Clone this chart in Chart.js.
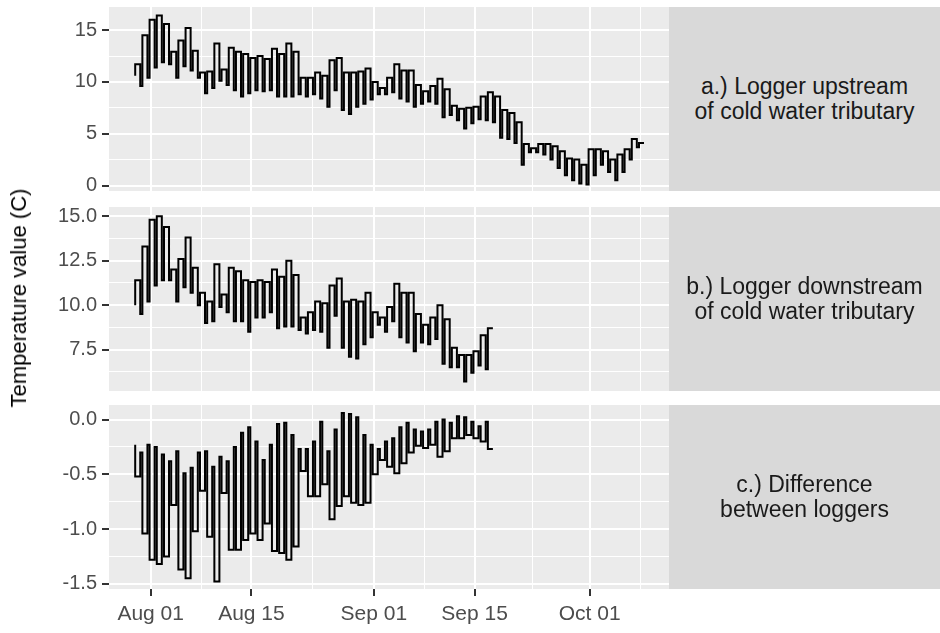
<!DOCTYPE html>
<html>
<head>
<meta charset="utf-8">
<script src="https://cdn.jsdelivr.net/npm/chart.js@4/dist/chart.umd.min.js"></script>
<style>
  body { margin: 0; background: #fff; }
  #wrap { position: relative; width: 940px; height: 633px; overflow: hidden;
          font-family: Arial, 'Liberation Sans', sans-serif; }
  canvas { position: absolute; left: 0; }
  .strip { position: absolute; left: 669px; width: 271px; height: 184px; background: #D9D9D9;
           color: #1A1A1A; font-size: 23px; line-height: 25px; display: flex;
           align-items: center; justify-content: center; text-align: center; }
  #ytitle { position: absolute; left: 19px; top: 298px; white-space: nowrap; font-size: 22px;
            color: #000; transform: translate(-50%, -50%) rotate(-90deg); }
</style>
</head>
<body>
<div id="wrap">
  <canvas id="pa" width="940" height="184" style="top:7px"></canvas>
  <canvas id="pb" width="940" height="184" style="top:207px"></canvas>
  <canvas id="pc" width="940" height="228" style="top:405px"></canvas>
  <div class="strip" style="top:7px">a.) Logger upstream<br>of cold water tributary</div>
  <div class="strip" style="top:207px">b.) Logger downstream<br>of cold water tributary</div>
  <div class="strip" style="top:405px">c.) Difference<br>between loggers</div>
  <div id="ytitle">Temperature value (C)</div>
</div>
<script>
// days counted from 1 Aug; series start on 30 Jul
const startDay = -2;

// a.) upstream logger, daily low / high, 30 Jul - 8 Oct
const upMin = [10.6, 9.6,
  10.4, 11.4, 11.9, 11.7, 10.4, 11.5, 11.1, 10.4, 8.9, 9.4,
  10.1, 9.7, 9.2, 8.6, 8.9, 9.2, 9.1, 9.2, 8.6, 8.6,
  8.6, 8.8, 8.6, 8.8, 8.4, 7.6, 9.2, 7.3, 6.9, 7.6, 7.9,
  8.3, 8.8, 8.8, 9.0, 8.4, 8.1, 7.6, 7.9, 8.1, 7.9,
  6.6, 6.8, 6.3, 5.5, 6.0, 6.4, 6.3, 6.1, 4.6, 4.5,
  4.1, 2.0, 3.2, 3.2, 3.0, 2.5, 1.7, 1.0, 0.5, 0.2,
  0.1, 1.0, 2.0, 1.3, 0.5, 1.3, 2.5, 3.7];
const upMax = [11.7, 14.5,
  16.0, 16.4, 15.6, 12.9, 14.0, 15.2, 13.0, 10.9, 11.0, 13.7,
  11.2, 13.3, 12.9, 12.7, 12.3, 12.5, 12.2, 13.2, 12.7, 13.7,
  12.9, 10.4, 10.4, 10.9, 10.6, 12.1, 12.3, 10.9, 10.9, 11.0, 11.3,
  10.0, 9.4, 10.4, 11.7, 11.1, 11.1, 9.7, 9.1, 9.6, 10.3,
  9.3, 7.7, 7.4, 7.5, 7.6, 8.6, 9.0, 8.6, 7.3, 7.0,
  6.1, 4.0, 3.6, 4.0, 4.0, 3.8, 3.3, 2.6, 2.5, 2.0,
  3.5, 3.5, 3.3, 2.5, 3.0, 3.5, 4.5, 4.1];

// b.) downstream logger, daily low / high, 30 Jul - 17 Sep
const downMin = [10.0, 9.5,
  10.2, 11.1, 11.4, 11.4, 10.2, 11.0, 10.7, 10.0, 9.0, 9.1,
  9.9, 9.6, 9.1, 9.1, 8.5, 9.3, 9.3, 9.6, 8.7, 8.8,
  8.8, 8.6, 8.4, 8.6, 8.5, 7.6, 9.4, 7.6, 7.1, 7.0, 7.8,
  8.2, 8.9, 8.5, 9.1, 8.2, 7.9, 7.4, 7.9, 7.8, 8.1,
  6.7, 6.5, 6.5, 5.7, 6.2, 6.6, 6.4];
const downMax = [11.4, 13.3,
  14.8, 15.0, 14.4, 12.0, 12.6, 13.8, 12.1, 10.7, 10.2, 12.3,
  10.6, 12.1, 11.9, 11.4, 11.3, 11.4, 11.3, 12.0, 11.6, 12.5,
  11.7, 9.3, 9.6, 10.2, 10.1, 11.1, 11.5, 10.2, 10.3, 10.2, 10.7,
  9.6, 9.3, 9.9, 11.2, 10.7, 10.7, 9.5, 8.9, 9.3, 10.0,
  9.2, 7.6, 7.2, 7.2, 7.4, 8.3, 8.7];

// c.) difference, night value (near zero) / afternoon value
const diffHigh = [-0.23, -0.30,
  -0.23, -0.25, -0.32, -0.38, -0.29, -0.49, -0.44, -0.30, -0.29, -0.43,
  -0.34, -0.38, -0.25, -0.12, -0.07, -0.20, -0.37, -0.23, -0.04, -0.03,
  -0.14, -0.27, -0.27, -0.20, -0.02, -0.29, -0.09, 0.06, 0.05, 0.02, -0.14,
  -0.23, -0.27, -0.20, -0.17, -0.07, -0.03, -0.09, -0.11, -0.09, -0.02,
  0.00, -0.03, 0.03, 0.02, -0.02, -0.06, -0.02];
const diffLow = [-0.52, -1.04,
  -1.28, -1.32, -1.25, -0.78, -1.37, -1.45, -1.02, -0.65, -1.07, -1.48,
  -0.67, -1.19, -1.19, -1.10, -1.04, -1.10, -0.95, -1.20, -1.22, -1.28,
  -1.16, -0.47, -0.70, -0.70, -0.59, -0.91, -0.79, -0.70, -0.76, -0.78, -0.76,
  -0.50, -0.37, -0.43, -0.49, -0.40, -0.30, -0.24, -0.26, -0.23, -0.34,
  -0.29, -0.17, -0.17, -0.14, -0.17, -0.20, -0.27];

// axis breaks
const xMajorDays = [0, 14, 31, 45, 61];
const xMajorLabels = ['Aug 01', 'Aug 15', 'Sep 01', 'Sep 15', 'Oct 01'];
const xMinorDays = [7, 22.5, 38, 53, 68];

const aMajor = [0, 5, 10, 15], aLabels = ['0', '5', '10', '15'], aMinor = [2.5, 7.5, 12.5];
const bMajor = [7.5, 10, 12.5, 15], bLabels = ['7.5', '10.0', '12.5', '15.0'], bMinor = [6.25, 8.75, 11.25, 13.75];
const cMajor = [-1.5, -1, -0.5, 0], cLabels = ['-1.5', '-1.0', '-0.5', '0.0'], cMinor = [-1.25, -0.75, -0.25];

Chart.defaults.font.family = "Arial, 'Liberation Sans', sans-serif";

// first value of the day just before dawn, second one in the afternoon
function toPoints(first, second) {
  const pts = [];
  first.forEach((v, i) => {
    const d = startDay + i;
    pts.push({ x: d - 0.15, y: v });
    pts.push({ x: d + 0.55, y: second[i] });
  });
  return pts;
}

const panelBg = {
  id: 'panelBg',
  beforeDraw(chart) {
    const a = chart.chartArea, c = chart.ctx;
    c.save();
    c.fillStyle = '#EBEBEB';
    c.fillRect(a.left, a.top, a.right - a.left, a.bottom - a.top);
    c.restore();
  }
};

function tickList(major, minor) {
  return major.concat(minor).sort((p, q) => p - q).map(v => ({ value: v }));
}

function panel(id, points, yMin, yMax, major, labels, minor, showX) {
  const isMajorY = v => major.includes(v);
  const isMajorX = v => xMajorDays.includes(v);
  new Chart(document.getElementById(id), {
    type: 'line',
    data: {
      datasets: [{
        data: points,
        borderColor: '#000',
        borderWidth: 2,
        pointRadius: 0,
        stepped: 'after',
        fill: false
      }]
    },
    options: {
      responsive: false,
      animation: false,
      devicePixelRatio: 1,
      layout: { autoPadding: false, padding: { left: 0, right: 271, top: 0, bottom: 0 } },
      plugins: { legend: { display: false }, tooltip: { enabled: false } },
      scales: {
        x: {
          type: 'linear',
          min: -5.79,
          max: 72.02,
          afterBuildTicks: s => { s.ticks = tickList(xMajorDays, xMinorDays); },
          afterFit: s => { s.height = showX ? 44 : 0; s.paddingLeft = 0; s.paddingRight = 0; },
          border: { display: false },
          grid: {
            color: '#FFFFFF',
            lineWidth: ctx => (ctx.tick && isMajorX(ctx.tick.value)) ? 2 : 1,
            drawTicks: showX,
            tickLength: 7,
            tickWidth: 2,
            tickColor: ctx => (ctx.tick && isMajorX(ctx.tick.value)) ? '#333333' : 'rgba(0,0,0,0)'
          },
          ticks: {
            display: showX,
            autoSkip: false,
            maxRotation: 0,
            padding: 6,
            color: '#4D4D4D',
            font: { size: 21 },
            callback: v => { const k = xMajorDays.indexOf(v); return k >= 0 ? xMajorLabels[k] : ''; }
          }
        },
        y: {
          min: yMin,
          max: yMax,
          afterBuildTicks: s => { s.ticks = tickList(major, minor); },
          afterFit: s => { s.width = 109; s.paddingTop = 0; s.paddingBottom = 0; },
          border: { display: false },
          grid: {
            color: '#FFFFFF',
            lineWidth: ctx => (ctx.tick && isMajorY(ctx.tick.value)) ? 2 : 1,
            tickLength: 7,
            tickWidth: 2,
            tickColor: ctx => (ctx.tick && isMajorY(ctx.tick.value)) ? '#333333' : 'rgba(0,0,0,0)'
          },
          ticks: {
            autoSkip: false,
            padding: 5,
            color: '#4D4D4D',
            font: { size: 20 },
            callback: v => { const k = major.indexOf(v); return k >= 0 ? labels[k] : ''; }
          }
        }
      }
    },
    plugins: [panelBg]
  });
}

panel('pa', toPoints(upMin, upMax), -0.53, 17.23, aMajor, aLabels, aMinor, false);
panel('pb', toPoints(downMin, downMax), 5.17, 15.52, bMajor, bLabels, bMinor, false);
panel('pc', toPoints(diffHigh, diffLow), -1.548, 0.133, cMajor, cLabels, cMinor, true);
</script>
</body>
</html>
